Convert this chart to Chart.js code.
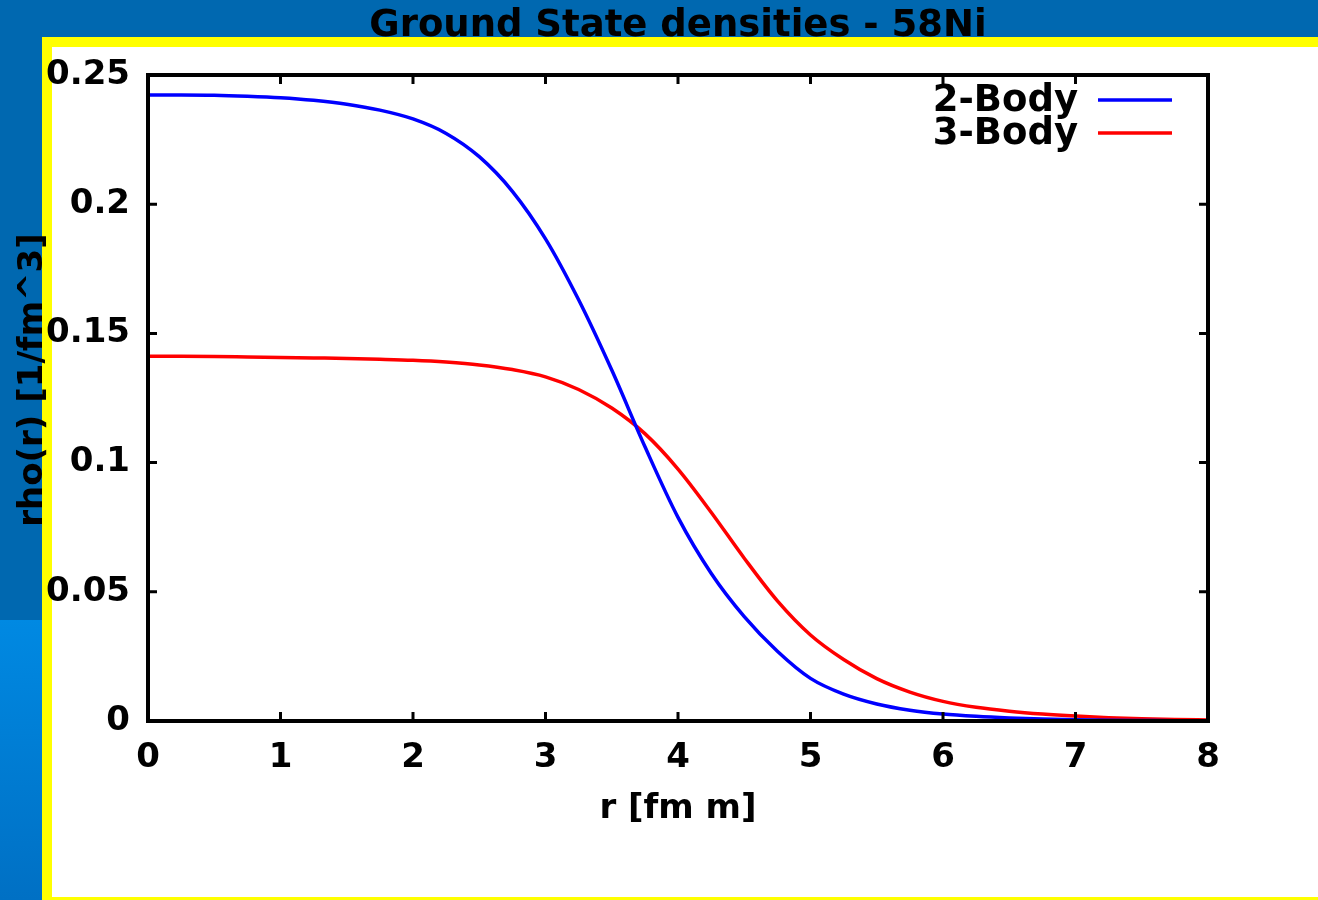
<!DOCTYPE html>
<html>
<head>
<meta charset="utf-8">
<title>Ground State densities - 58Ni</title>
<script src="https://cdn.jsdelivr.net/npm/chart.js@4.4.1/dist/chart.umd.min.js"></script>
<style>
    html, body {
        margin: 0;
        padding: 0;
        width: 1318px;
        height: 900px;
        overflow: hidden;
        background: #0068b0;
    }
    #leftStrip {
        position: absolute;
        left: 0;
        top: 620px;
        width: 42px;
        height: 280px;
        background: linear-gradient(#0089e2, #0070c4);
    }
    #panel {
        position: absolute;
        left: 42px;
        top: 37px;
        width: 1266px;
        height: 850px;
        background: #ffffff;
        border-left: 10px solid #ffff00;
        border-top: 10px solid #ffff00;
        border-bottom: 3px solid #ffff00;
    }
    #chartBox {
        position: absolute;
        left: 0;
        top: 0;
        width: 1318px;
        height: 900px;
    }
</style>
</head>
<body>
<div id="leftStrip"></div>
<div id="panel"></div>
<div id="chartBox"><canvas id="densityChart" width="1318" height="900"></canvas></div>

<script>
// radius [fm] and densities
const rValues = [0, 0.25, 0.5, 0.75, 1, 1.25, 1.5, 1.75, 2, 2.25, 2.5, 2.75, 3, 3.25, 3.5, 3.75,
    4, 4.25, 4.5, 4.75, 5, 5.25, 5.5, 5.75, 6, 6.25, 6.5, 6.75, 7, 7.25, 7.5, 7.75, 8];

const twoBody = [0.2423, 0.2423, 0.2422, 0.2418, 0.2412, 0.2402, 0.2387, 0.2364, 0.2330, 0.2274,
    0.2184, 0.2050, 0.1866, 0.1630, 0.1358, 0.1062, 0.0788, 0.0572, 0.0404, 0.0270, 0.0165,
    0.0104, 0.0066, 0.0042, 0.0027, 0.0018, 0.0012, 0.0008, 0.0005, 0.0003, 0.0002, 0.0001, 0.0001];

const threeBody = [0.1412, 0.1412, 0.1411, 0.1409, 0.1407, 0.1405, 0.1403, 0.1400, 0.1396, 0.1389,
    0.1378, 0.1360, 0.1332, 0.1283, 0.1211, 0.1112, 0.0975, 0.0808, 0.0630, 0.0465, 0.0333,
    0.0238, 0.0164, 0.0112, 0.0076, 0.0053, 0.0038, 0.0027, 0.0019, 0.0013, 0.0009, 0.0006, 0.0004];

const seriesNames = ['2-Body', '3-Body'];
const seriesColors = ['#0000ff', '#ff0000'];

const xTicks = [0, 1, 2, 3, 4, 5, 6, 7, 8];
const yTicks = [0, 0.05, 0.1, 0.15, 0.2, 0.25];
const yTickLabels = ['0', '0.05', '0.1', '0.15', '0.2', '0.25'];

const plotTitle = 'Ground State densities - 58Ni';
const xTitle = 'r [fm m]';
const yTitle = 'rho(r) [1/fm^3]';

function toPoints(values) {
    return rValues.map(function (r, i) {
        return { x: r, y: values[i] };
    });
}

// gnuplot style frame with ticks pointing inwards on every side
const framePlugin = {
    id: 'frame',
    afterDatasetsDraw: function (chart) {
        const ctx = chart.ctx;
        const area = chart.chartArea;
        const xs = chart.scales.x;
        const ys = chart.scales.y;
        const len = 9;
        ctx.save();
        ctx.strokeStyle = '#000';
        ctx.lineWidth = 3;
        ctx.beginPath();
        xTicks.forEach(function (v) {
            const px = xs.getPixelForValue(v);
            ctx.moveTo(px, area.bottom);
            ctx.lineTo(px, area.bottom - len);
            ctx.moveTo(px, area.top);
            ctx.lineTo(px, area.top + len);
        });
        yTicks.forEach(function (v) {
            const py = ys.getPixelForValue(v);
            ctx.moveTo(area.left, py);
            ctx.lineTo(area.left + len, py);
            ctx.moveTo(area.right, py);
            ctx.lineTo(area.right - len, py);
        });
        ctx.stroke();
        ctx.lineWidth = 4;
        ctx.strokeRect(area.left, area.top, area.right - area.left, area.bottom - area.top);
        ctx.restore();
    }
};

// key in the upper right corner: label first, line sample after it
const keyPlugin = {
    id: 'key',
    afterDraw: function (chart) {
        const ctx = chart.ctx;
        const area = chart.chartArea;
        ctx.save();
        ctx.font = 'bold 37px "DejaVu Sans"';
        ctx.textAlign = 'right';
        ctx.textBaseline = 'middle';
        chart.data.datasets.forEach(function (ds, i) {
            const y = area.top + 25 + i * 33;
            ctx.fillStyle = '#000';
            ctx.fillText(ds.label, area.right - 130, y + 1);
            ctx.strokeStyle = ds.borderColor;
            ctx.lineWidth = 3.5;
            ctx.beginPath();
            ctx.moveTo(area.right - 110, y);
            ctx.lineTo(area.right - 36, y);
            ctx.stroke();
        });
        ctx.restore();
    }
};

// title centred over the plot area, y label a bit above the middle (as in the original)
const placementPlugin = {
    id: 'placement',
    afterLayout: function (chart) {
        if (chart.titleBlock) {
            chart.titleBlock.left = chart.chartArea.left;
            chart.titleBlock.right = chart.chartArea.right;
        }
        const ys = chart.scales.y;
        if (!ys._titleShifted) {
            const orig = ys.drawTitle;
            ys.drawTitle = function () {
                this.ctx.save();
                this.ctx.translate(0, -18);
                orig.apply(this, arguments);
                this.ctx.restore();
            };
            ys._titleShifted = true;
        }
    }
};

document.addEventListener('DOMContentLoaded', function () {
    Chart.defaults.font.family = '"DejaVu Sans", sans-serif';
    Chart.defaults.color = '#000';

    const ctx = document.getElementById('densityChart').getContext('2d');
    new Chart(ctx, {
        type: 'line',
        data: {
            datasets: [{
                label: seriesNames[0],
                data: toPoints(twoBody),
                borderColor: seriesColors[0],
                borderWidth: 3.5,
                pointRadius: 0,
                cubicInterpolationMode: 'monotone',
                fill: false
            }, {
                label: seriesNames[1],
                data: toPoints(threeBody),
                borderColor: seriesColors[1],
                borderWidth: 3.5,
                pointRadius: 0,
                cubicInterpolationMode: 'monotone',
                fill: false
            }]
        },
        options: {
            responsive: false,
            animation: false,
            maintainAspectRatio: false,
            layout: {
                padding: { top: 0, left: 0, right: 110, bottom: 0 }
            },
            plugins: {
                legend: { display: false },
                tooltip: { enabled: false },
                title: {
                    display: true,
                    text: plotTitle,
                    color: '#000',
                    font: { size: 37, weight: 'bold' },
                    padding: { top: 4, bottom: 26.6 }
                }
            },
            scales: {
                x: {
                    type: 'linear',
                    min: 0,
                    max: 8,
                    grid: { display: false, drawTicks: false },
                    border: { display: false },
                    afterBuildTicks: function (scale) {
                        scale.ticks = xTicks.map(function (v) { return { value: v }; });
                    },
                    afterFit: function (scale) {
                        scale.height = 179;
                    },
                    ticks: {
                        padding: 17,
                        maxRotation: 0,
                        font: { size: 34, weight: 'bold' }
                    },
                    title: {
                        display: true,
                        text: xTitle,
                        font: { size: 34, weight: 'bold' },
                        padding: { top: 0, bottom: 70.6 }
                    }
                },
                y: {
                    type: 'linear',
                    min: 0,
                    max: 0.25,
                    grid: { display: false, drawTicks: false },
                    border: { display: false },
                    afterBuildTicks: function (scale) {
                        scale.ticks = yTicks.map(function (v) { return { value: v }; });
                    },
                    afterFit: function (scale) {
                        scale.width = 148;
                    },
                    ticks: {
                        padding: 18,
                        font: { size: 34, weight: 'bold' },
                        callback: function (value) {
                            const i = yTicks.indexOf(value);
                            return i >= 0 ? yTickLabels[i] : '';
                        }
                    },
                    title: {
                        display: true,
                        text: yTitle,
                        font: { size: 34, weight: 'bold' },
                        padding: { top: 12.6, bottom: 0 }
                    }
                }
            }
        },
        plugins: [placementPlugin, framePlugin, keyPlugin]
    });
});
</script>
</body>
</html>
